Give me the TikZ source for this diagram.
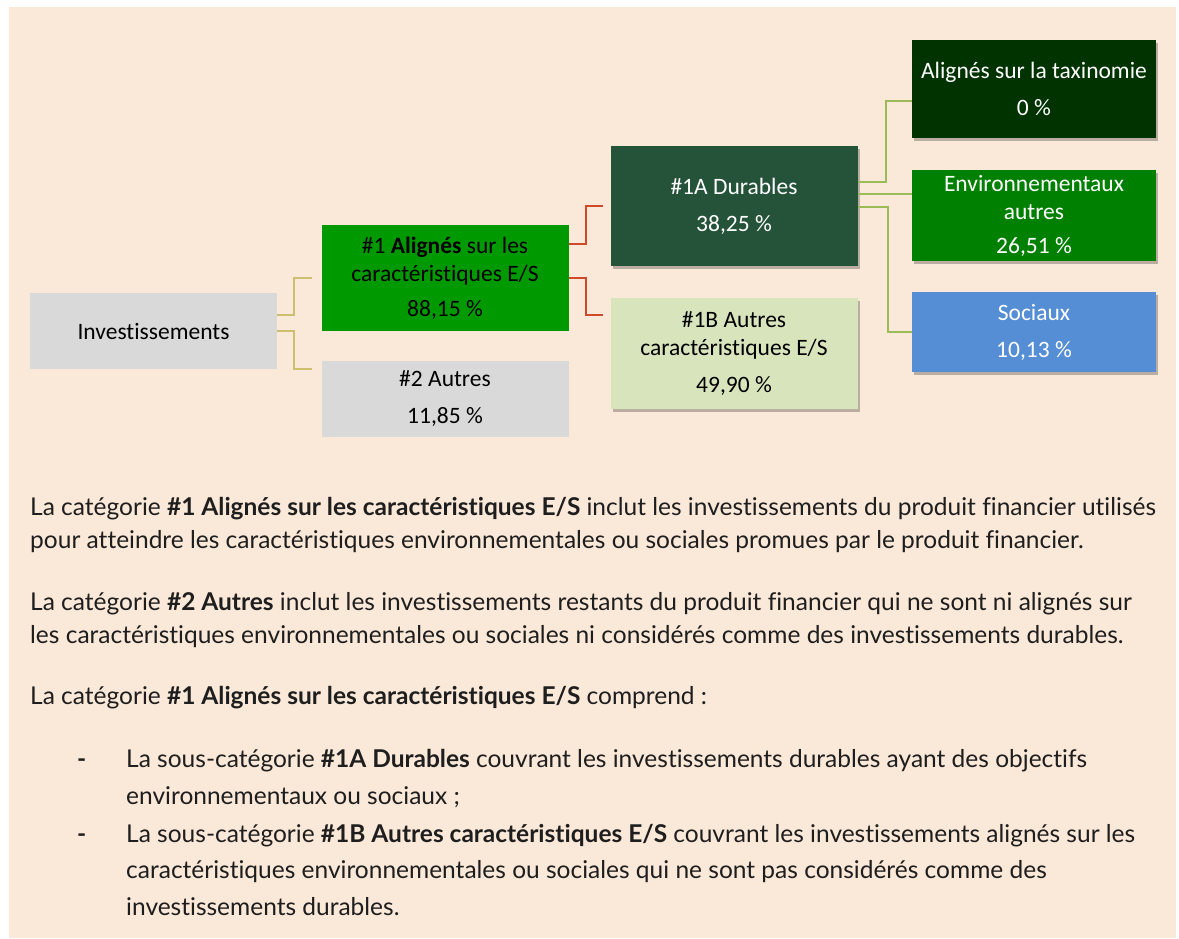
\documentclass[tikz,border=0pt]{standalone}
\usepackage{fontspec}
\usepackage{tikz}
\usetikzlibrary{positioning, shadows}
\setmainfont{Lato}[Ligatures=NoCommon]
\newfontfamily\boxfont{Carlito}[Ligatures=NoCommon]
\definecolor{bgbeige}{RGB}{250, 232, 216}
\definecolor{boxgray}{RGB}{217, 217, 217}
\definecolor{algreen}{RGB}{0, 153, 0}
\definecolor{durgreen}{RGB}{37, 83, 58}
\definecolor{othgreen}{RGB}{216, 228, 188}
\definecolor{taxgreen}{RGB}{0, 51, 0}
\definecolor{envgreen}{RGB}{0, 128, 0}
\definecolor{socblue}{RGB}{85, 142, 213}
\definecolor{lnkyellow}{RGB}{204, 192, 112}
\definecolor{lnkred}{RGB}{208, 74, 42}
\definecolor{lnkgreen}{RGB}{155, 187, 89}
\definecolor{txtgray}{RGB}{30, 30, 30}

\begin{document}
\begin{tikzpicture}[
    x=1pt, y=-1pt,
    catbox/.style={rectangle, inner sep=0pt, minimum width=247pt, align=center, font=\boxfont\fontsize{23.5}{28}\selectfont},
    shadowed/.style={drop shadow={shadow xshift=2pt, shadow yshift=-3pt, fill=black, opacity=0.25}},
    lnk/.style={line width=1.8pt},
    bodytxt/.style={anchor=base west, inner sep=0pt, text=txtgray, font=\fontsize{24.5}{29}\selectfont},
    bulletdash/.style={anchor=base west, inner sep=0pt, text=txtgray, font=\bfseries\fontsize{24.5}{29}\selectfont}
]

\useasboundingbox (0,0) rectangle (1179,938);
\fill[white] (0,0) rectangle (1179,938);
\fill[bgbeige] (9,7) rectangle (1176,938);

\node[catbox, fill=boxgray, minimum height=76pt] (inv) at (153.5,331) {Investissements};

\node[catbox, fill=algreen, minimum height=106pt] (al) at (445,278) {\#1 \textbf{Alignés} sur les\\caractéristiques E/S\\[7pt]88,15~\%};

\node[catbox, fill=boxgray, minimum height=76pt] (aut) at (445,399) {\#2 Autres\\[9pt]11,85~\%};

\node[catbox, shadowed, fill=durgreen, text=white, minimum height=120pt] (dur) at (734,206) {\#1A Durables\\[9pt]38,25~\%};

\node[catbox, shadowed, fill=othgreen, minimum height=111pt] (oth) at (734,353.5) {\#1B Autres\\caractéristiques E/S\\[9pt]49,90~\%};

\node[catbox, shadowed, fill=taxgreen, text=white, minimum width=244pt, minimum height=98pt] (tax) at (1034,89) {Alignés sur la taxinomie\\[9pt]0~\%};

\node[catbox, shadowed, fill=envgreen, text=white, minimum width=244pt, minimum height=91pt] (env) at (1034,215.5) {Environnementaux\\autres\\[6pt]26,51~\%};

\node[catbox, shadowed, fill=socblue, text=white, minimum width=244pt, minimum height=80pt] (soc) at (1034,332) {Sociaux\\[9pt]10,13~\%};

\draw[lnk, lnkyellow] ([yshift=16pt]inv.east) -- ++(17,0) |- ([xshift=-9pt]al.west);
\draw[lnk, lnkyellow] (inv.east) -- ++(17,0) |- ([xshift=-9pt, yshift=30pt]aut.west);
\draw[lnk, lnkred] ([yshift=34pt]al.east) -- ++(17,0) |- ([xshift=-7pt]dur.west);
\draw[lnk, lnkred] (al.east) -- ++(17,0) |- ([xshift=-7pt, yshift=38.5pt]oth.west);
\draw[lnk, lnkgreen] ([yshift=24pt]dur.east) -- ++(28,0) |- ([yshift=-12pt]tax.west);
\draw[lnk, lnkgreen] ([yshift=12pt]dur.east) -- ([yshift=12pt]dur.east -| env.west);
\draw[lnk, lnkgreen] ([yshift=-1pt]dur.east) -- ++(30,0) |- (soc.west);

\node[bodytxt] (p1a) at (30,515) {La catégorie \textbf{\#1 Alignés sur les caractéristiques E/S} inclut les investissements du produit financier utilisés};
\node[bodytxt] (p1b) at (30,548) {pour atteindre les caractéristiques environnementales ou sociales promues par le produit financier.};
\node[bodytxt] (p2a) at (30,610) {La catégorie \textbf{\#2 Autres} inclut les investissements restants du produit financier qui ne sont ni alignés sur};
\node[bodytxt] (p2b) at (30,643) {les caractéristiques environnementales ou sociales ni considérés comme des investissements durables.};
\node[bodytxt] (p3a) at (30,704) {La catégorie \textbf{\#1 Alignés sur les caractéristiques E/S} comprend :};

\node[bulletdash] (d1) at (77,767) {-};
\node[bodytxt] (b1a) at (126,767) {La sous-catégorie \textbf{\#1A Durables} couvrant les investissements durables ayant des objectifs};
\node[bodytxt] (b1b) at (126,804) {environnementaux ou sociaux ;};
\node[bulletdash] (d2) at (77,842) {-};
\node[bodytxt] (b2a) at (126,842) {La sous-catégorie \textbf{\#1B Autres caractéristiques E/S} couvrant les investissements alignés sur les};
\node[bodytxt] (b2b) at (126,878) {caractéristiques environnementales ou sociales qui ne sont pas considérés comme des};
\node[bodytxt] (b2c) at (126,915) {investissements durables.};

\end{tikzpicture}
\end{document}
